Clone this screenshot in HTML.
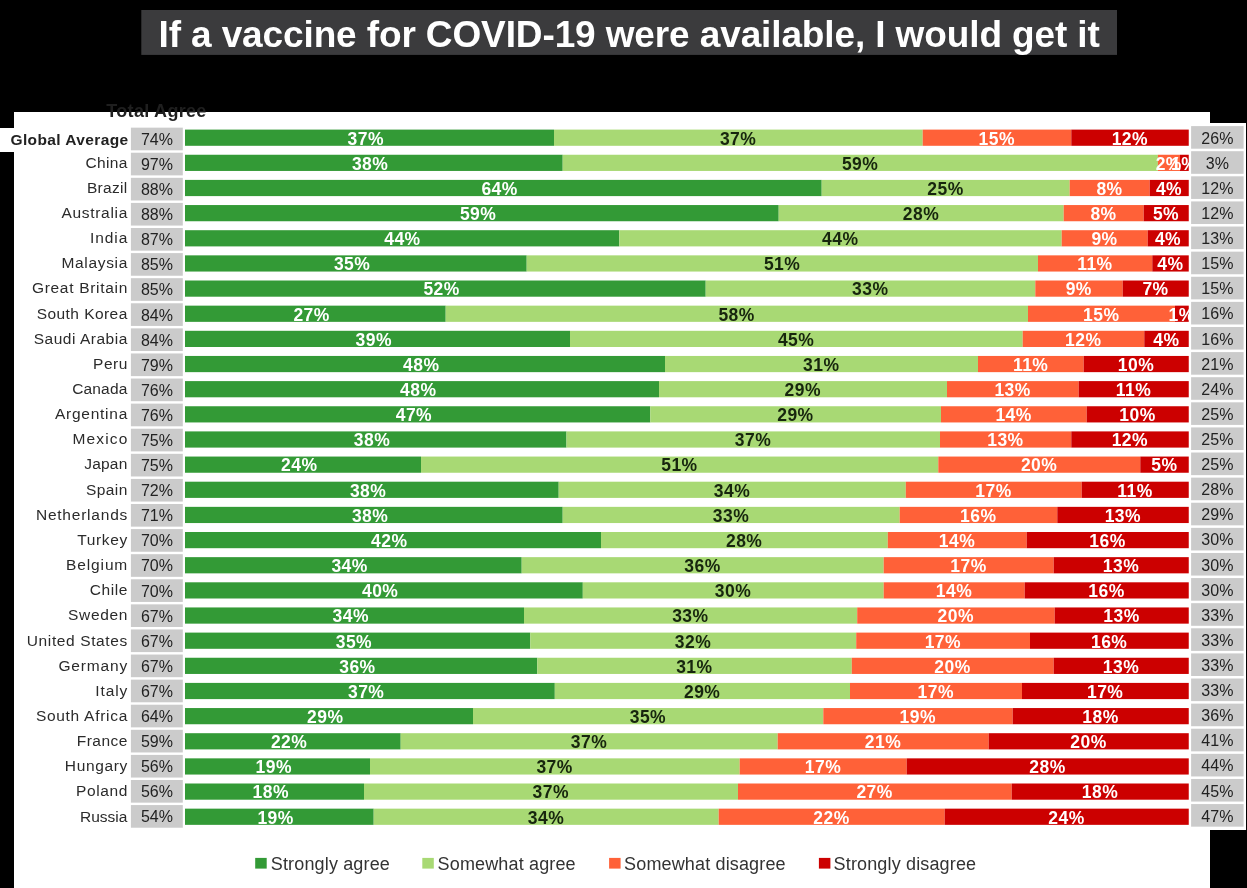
<!DOCTYPE html>
<html lang="en"><head><meta charset="utf-8"><title>If a vaccine for COVID-19 were available, I would get it</title>
<style>
html,body{margin:0;padding:0;background:#000;}
body{width:1247px;height:888px;position:relative;overflow:hidden;font-family:"Liberation Sans",sans-serif;color:#262626;}
.a{position:absolute;}
.t{position:absolute;white-space:nowrap;text-align:center;}
.panel{left:14px;top:112px;width:1196px;height:776px;background:#fff;}
.rpanel{left:1189px;top:122.7px;width:57px;height:707.4px;background:#fff;}
.gl{left:0;top:127.7px;width:131px;height:24.2px;background:#fff;}
.title{left:141.7px;top:10px;width:974.3px;height:44.6px;background:#3b3b3d;}
.tt{color:#fff;font-weight:bold;}
.c{background:#cbcbcb;z-index:3;}
.ct{z-index:4;color:#222;}
.cn{text-align:right;color:#2b2b2b;}
.s{height:16.2px;}
.bl{font-weight:bold;z-index:2;}
.lg{color:#333;text-align:left;}
</style></head><body>
<div class="a panel"></div>
<div class="a rpanel"></div>
<div class="a gl"></div>

<svg class="a" style="left:0;top:0;z-index:1" width="1247" height="888" viewBox="0 0 1247 888"><rect x="141.30" y="10.00" width="975.70" height="44.90" fill="#3b3b3d"/>
<rect x="185.00" y="129.60" width="369.00" height="16.20" fill="#339a36"/>
<rect x="554.00" y="129.60" width="368.70" height="16.20" fill="#a8d974"/>
<rect x="922.70" y="129.60" width="148.60" height="16.20" fill="#ff6138"/>
<rect x="1071.30" y="129.60" width="117.45" height="16.20" fill="#cc0000"/>
<rect x="185.00" y="154.75" width="377.70" height="16.20" fill="#339a36"/>
<rect x="562.70" y="154.75" width="595.20" height="16.20" fill="#a8d974"/>
<rect x="1157.90" y="154.75" width="22.10" height="16.20" fill="#ff6138"/>
<rect x="1180.00" y="154.75" width="8.75" height="16.20" fill="#cc0000"/>
<rect x="185.00" y="179.90" width="636.70" height="16.20" fill="#339a36"/>
<rect x="821.70" y="179.90" width="248.00" height="16.20" fill="#a8d974"/>
<rect x="1069.70" y="179.90" width="80.00" height="16.20" fill="#ff6138"/>
<rect x="1149.70" y="179.90" width="39.05" height="16.20" fill="#cc0000"/>
<rect x="185.00" y="205.05" width="593.70" height="16.20" fill="#339a36"/>
<rect x="778.70" y="205.05" width="285.00" height="16.20" fill="#a8d974"/>
<rect x="1063.70" y="205.05" width="80.00" height="16.20" fill="#ff6138"/>
<rect x="1143.70" y="205.05" width="45.05" height="16.20" fill="#cc0000"/>
<rect x="185.00" y="230.20" width="434.30" height="16.20" fill="#339a36"/>
<rect x="619.30" y="230.20" width="442.40" height="16.20" fill="#a8d974"/>
<rect x="1061.70" y="230.20" width="86.00" height="16.20" fill="#ff6138"/>
<rect x="1147.70" y="230.20" width="41.05" height="16.20" fill="#cc0000"/>
<rect x="185.00" y="255.35" width="341.70" height="16.20" fill="#339a36"/>
<rect x="526.70" y="255.35" width="511.30" height="16.20" fill="#a8d974"/>
<rect x="1038.00" y="255.35" width="114.30" height="16.20" fill="#ff6138"/>
<rect x="1152.30" y="255.35" width="36.45" height="16.20" fill="#cc0000"/>
<rect x="185.00" y="280.50" width="520.70" height="16.20" fill="#339a36"/>
<rect x="705.70" y="280.50" width="329.60" height="16.20" fill="#a8d974"/>
<rect x="1035.30" y="280.50" width="87.40" height="16.20" fill="#ff6138"/>
<rect x="1122.70" y="280.50" width="66.05" height="16.20" fill="#cc0000"/>
<rect x="185.00" y="305.65" width="260.70" height="16.20" fill="#339a36"/>
<rect x="445.70" y="305.65" width="582.30" height="16.20" fill="#a8d974"/>
<rect x="1028.00" y="305.65" width="147.00" height="16.20" fill="#ff6138"/>
<rect x="1175.00" y="305.65" width="13.75" height="16.20" fill="#cc0000"/>
<rect x="185.00" y="330.80" width="385.00" height="16.20" fill="#339a36"/>
<rect x="570.00" y="330.80" width="452.70" height="16.20" fill="#a8d974"/>
<rect x="1022.70" y="330.80" width="121.60" height="16.20" fill="#ff6138"/>
<rect x="1144.30" y="330.80" width="44.45" height="16.20" fill="#cc0000"/>
<rect x="185.00" y="355.95" width="480.00" height="16.20" fill="#339a36"/>
<rect x="665.00" y="355.95" width="313.00" height="16.20" fill="#a8d974"/>
<rect x="978.00" y="355.95" width="105.70" height="16.20" fill="#ff6138"/>
<rect x="1083.70" y="355.95" width="105.05" height="16.20" fill="#cc0000"/>
<rect x="185.00" y="381.10" width="474.00" height="16.20" fill="#339a36"/>
<rect x="659.00" y="381.10" width="288.00" height="16.20" fill="#a8d974"/>
<rect x="947.00" y="381.10" width="131.70" height="16.20" fill="#ff6138"/>
<rect x="1078.70" y="381.10" width="110.05" height="16.20" fill="#cc0000"/>
<rect x="185.00" y="406.25" width="465.30" height="16.20" fill="#339a36"/>
<rect x="650.30" y="406.25" width="290.70" height="16.20" fill="#a8d974"/>
<rect x="941.00" y="406.25" width="145.70" height="16.20" fill="#ff6138"/>
<rect x="1086.70" y="406.25" width="102.05" height="16.20" fill="#cc0000"/>
<rect x="185.00" y="431.40" width="381.50" height="16.20" fill="#339a36"/>
<rect x="566.50" y="431.40" width="373.50" height="16.20" fill="#a8d974"/>
<rect x="940.00" y="431.40" width="131.30" height="16.20" fill="#ff6138"/>
<rect x="1071.30" y="431.40" width="117.45" height="16.20" fill="#cc0000"/>
<rect x="185.00" y="456.55" width="236.00" height="16.20" fill="#339a36"/>
<rect x="421.00" y="456.55" width="517.30" height="16.20" fill="#a8d974"/>
<rect x="938.30" y="456.55" width="202.00" height="16.20" fill="#ff6138"/>
<rect x="1140.30" y="456.55" width="48.45" height="16.20" fill="#cc0000"/>
<rect x="185.00" y="481.70" width="373.70" height="16.20" fill="#339a36"/>
<rect x="558.70" y="481.70" width="347.10" height="16.20" fill="#a8d974"/>
<rect x="905.80" y="481.70" width="175.90" height="16.20" fill="#ff6138"/>
<rect x="1081.70" y="481.70" width="107.05" height="16.20" fill="#cc0000"/>
<rect x="185.00" y="506.85" width="377.70" height="16.20" fill="#339a36"/>
<rect x="562.70" y="506.85" width="337.00" height="16.20" fill="#a8d974"/>
<rect x="899.70" y="506.85" width="157.60" height="16.20" fill="#ff6138"/>
<rect x="1057.30" y="506.85" width="131.45" height="16.20" fill="#cc0000"/>
<rect x="185.00" y="532.00" width="416.00" height="16.20" fill="#339a36"/>
<rect x="601.00" y="532.00" width="286.80" height="16.20" fill="#a8d974"/>
<rect x="887.80" y="532.00" width="138.90" height="16.20" fill="#ff6138"/>
<rect x="1026.70" y="532.00" width="162.05" height="16.20" fill="#cc0000"/>
<rect x="185.00" y="557.15" width="336.70" height="16.20" fill="#339a36"/>
<rect x="521.70" y="557.15" width="362.00" height="16.20" fill="#a8d974"/>
<rect x="883.70" y="557.15" width="170.00" height="16.20" fill="#ff6138"/>
<rect x="1053.70" y="557.15" width="135.05" height="16.20" fill="#cc0000"/>
<rect x="185.00" y="582.30" width="397.80" height="16.20" fill="#339a36"/>
<rect x="582.80" y="582.30" width="300.90" height="16.20" fill="#a8d974"/>
<rect x="883.70" y="582.30" width="141.00" height="16.20" fill="#ff6138"/>
<rect x="1024.70" y="582.30" width="164.05" height="16.20" fill="#cc0000"/>
<rect x="185.00" y="607.45" width="339.00" height="16.20" fill="#339a36"/>
<rect x="524.00" y="607.45" width="333.20" height="16.20" fill="#a8d974"/>
<rect x="857.20" y="607.45" width="197.50" height="16.20" fill="#ff6138"/>
<rect x="1054.70" y="607.45" width="134.05" height="16.20" fill="#cc0000"/>
<rect x="185.00" y="632.60" width="345.30" height="16.20" fill="#339a36"/>
<rect x="530.30" y="632.60" width="325.90" height="16.20" fill="#a8d974"/>
<rect x="856.20" y="632.60" width="173.80" height="16.20" fill="#ff6138"/>
<rect x="1030.00" y="632.60" width="158.75" height="16.20" fill="#cc0000"/>
<rect x="185.00" y="657.75" width="352.30" height="16.20" fill="#339a36"/>
<rect x="537.30" y="657.75" width="314.50" height="16.20" fill="#a8d974"/>
<rect x="851.80" y="657.75" width="201.90" height="16.20" fill="#ff6138"/>
<rect x="1053.70" y="657.75" width="135.05" height="16.20" fill="#cc0000"/>
<rect x="185.00" y="682.90" width="369.80" height="16.20" fill="#339a36"/>
<rect x="554.80" y="682.90" width="295.20" height="16.20" fill="#a8d974"/>
<rect x="850.00" y="682.90" width="172.00" height="16.20" fill="#ff6138"/>
<rect x="1022.00" y="682.90" width="166.75" height="16.20" fill="#cc0000"/>
<rect x="185.00" y="708.05" width="288.00" height="16.20" fill="#339a36"/>
<rect x="473.00" y="708.05" width="350.30" height="16.20" fill="#a8d974"/>
<rect x="823.30" y="708.05" width="189.40" height="16.20" fill="#ff6138"/>
<rect x="1012.70" y="708.05" width="176.05" height="16.20" fill="#cc0000"/>
<rect x="185.00" y="733.20" width="215.70" height="16.20" fill="#339a36"/>
<rect x="400.70" y="733.20" width="377.00" height="16.20" fill="#a8d974"/>
<rect x="777.70" y="733.20" width="211.00" height="16.20" fill="#ff6138"/>
<rect x="988.70" y="733.20" width="200.05" height="16.20" fill="#cc0000"/>
<rect x="185.00" y="758.35" width="185.00" height="16.20" fill="#339a36"/>
<rect x="370.00" y="758.35" width="369.70" height="16.20" fill="#a8d974"/>
<rect x="739.70" y="758.35" width="167.00" height="16.20" fill="#ff6138"/>
<rect x="906.70" y="758.35" width="282.05" height="16.20" fill="#cc0000"/>
<rect x="185.00" y="783.50" width="179.00" height="16.20" fill="#339a36"/>
<rect x="364.00" y="783.50" width="374.00" height="16.20" fill="#a8d974"/>
<rect x="738.00" y="783.50" width="273.70" height="16.20" fill="#ff6138"/>
<rect x="1011.70" y="783.50" width="177.05" height="16.20" fill="#cc0000"/>
<rect x="185.00" y="808.65" width="188.70" height="16.20" fill="#339a36"/>
<rect x="373.70" y="808.65" width="345.00" height="16.20" fill="#a8d974"/>
<rect x="718.70" y="808.65" width="226.00" height="16.20" fill="#ff6138"/>
<rect x="944.70" y="808.65" width="244.05" height="16.20" fill="#cc0000"/>
<rect x="255.20" y="857.90" width="11.50" height="10.70" fill="#339a36"/>
<rect x="422.30" y="857.90" width="11.50" height="10.70" fill="#a8d974"/>
<rect x="609.10" y="857.90" width="11.50" height="10.70" fill="#ff6138"/>
<rect x="818.90" y="857.90" width="11.50" height="10.70" fill="#cc0000"/></svg><svg class="a" style="left:0;top:0;z-index:3" width="1247" height="888" viewBox="0 0 1247 888"><rect x="130.90" y="127.65" width="51.90" height="22.65" fill="#cbcbcb"/>
<rect x="1191.10" y="126.10" width="52.50" height="22.60" fill="#cbcbcb"/>
<rect x="130.90" y="152.74" width="51.90" height="22.65" fill="#cbcbcb"/>
<rect x="1191.10" y="151.21" width="52.50" height="22.60" fill="#cbcbcb"/>
<rect x="130.90" y="177.83" width="51.90" height="22.65" fill="#cbcbcb"/>
<rect x="1191.10" y="176.32" width="52.50" height="22.60" fill="#cbcbcb"/>
<rect x="130.90" y="202.92" width="51.90" height="22.65" fill="#cbcbcb"/>
<rect x="1191.10" y="201.43" width="52.50" height="22.60" fill="#cbcbcb"/>
<rect x="130.90" y="228.01" width="51.90" height="22.65" fill="#cbcbcb"/>
<rect x="1191.10" y="226.54" width="52.50" height="22.60" fill="#cbcbcb"/>
<rect x="130.90" y="253.10" width="51.90" height="22.65" fill="#cbcbcb"/>
<rect x="1191.10" y="251.65" width="52.50" height="22.60" fill="#cbcbcb"/>
<rect x="130.90" y="278.19" width="51.90" height="22.65" fill="#cbcbcb"/>
<rect x="1191.10" y="276.76" width="52.50" height="22.60" fill="#cbcbcb"/>
<rect x="130.90" y="303.28" width="51.90" height="22.65" fill="#cbcbcb"/>
<rect x="1191.10" y="301.87" width="52.50" height="22.60" fill="#cbcbcb"/>
<rect x="130.90" y="328.37" width="51.90" height="22.65" fill="#cbcbcb"/>
<rect x="1191.10" y="326.98" width="52.50" height="22.60" fill="#cbcbcb"/>
<rect x="130.90" y="353.46" width="51.90" height="22.65" fill="#cbcbcb"/>
<rect x="1191.10" y="352.09" width="52.50" height="22.60" fill="#cbcbcb"/>
<rect x="130.90" y="378.55" width="51.90" height="22.65" fill="#cbcbcb"/>
<rect x="1191.10" y="377.20" width="52.50" height="22.60" fill="#cbcbcb"/>
<rect x="130.90" y="403.64" width="51.90" height="22.65" fill="#cbcbcb"/>
<rect x="1191.10" y="402.31" width="52.50" height="22.60" fill="#cbcbcb"/>
<rect x="130.90" y="428.73" width="51.90" height="22.65" fill="#cbcbcb"/>
<rect x="1191.10" y="427.42" width="52.50" height="22.60" fill="#cbcbcb"/>
<rect x="130.90" y="453.82" width="51.90" height="22.65" fill="#cbcbcb"/>
<rect x="1191.10" y="452.53" width="52.50" height="22.60" fill="#cbcbcb"/>
<rect x="130.90" y="478.91" width="51.90" height="22.65" fill="#cbcbcb"/>
<rect x="1191.10" y="477.64" width="52.50" height="22.60" fill="#cbcbcb"/>
<rect x="130.90" y="504.00" width="51.90" height="22.65" fill="#cbcbcb"/>
<rect x="1191.10" y="502.75" width="52.50" height="22.60" fill="#cbcbcb"/>
<rect x="130.90" y="529.09" width="51.90" height="22.65" fill="#cbcbcb"/>
<rect x="1191.10" y="527.86" width="52.50" height="22.60" fill="#cbcbcb"/>
<rect x="130.90" y="554.18" width="51.90" height="22.65" fill="#cbcbcb"/>
<rect x="1191.10" y="552.97" width="52.50" height="22.60" fill="#cbcbcb"/>
<rect x="130.90" y="579.27" width="51.90" height="22.65" fill="#cbcbcb"/>
<rect x="1191.10" y="578.08" width="52.50" height="22.60" fill="#cbcbcb"/>
<rect x="130.90" y="604.36" width="51.90" height="22.65" fill="#cbcbcb"/>
<rect x="1191.10" y="603.19" width="52.50" height="22.60" fill="#cbcbcb"/>
<rect x="130.90" y="629.45" width="51.90" height="22.65" fill="#cbcbcb"/>
<rect x="1191.10" y="628.30" width="52.50" height="22.60" fill="#cbcbcb"/>
<rect x="130.90" y="654.54" width="51.90" height="22.65" fill="#cbcbcb"/>
<rect x="1191.10" y="653.41" width="52.50" height="22.60" fill="#cbcbcb"/>
<rect x="130.90" y="679.63" width="51.90" height="22.65" fill="#cbcbcb"/>
<rect x="1191.10" y="678.52" width="52.50" height="22.60" fill="#cbcbcb"/>
<rect x="130.90" y="704.72" width="51.90" height="22.65" fill="#cbcbcb"/>
<rect x="1191.10" y="703.63" width="52.50" height="22.60" fill="#cbcbcb"/>
<rect x="130.90" y="729.81" width="51.90" height="22.65" fill="#cbcbcb"/>
<rect x="1191.10" y="728.74" width="52.50" height="22.60" fill="#cbcbcb"/>
<rect x="130.90" y="754.90" width="51.90" height="22.65" fill="#cbcbcb"/>
<rect x="1191.10" y="753.85" width="52.50" height="22.60" fill="#cbcbcb"/>
<rect x="130.90" y="779.99" width="51.90" height="22.65" fill="#cbcbcb"/>
<rect x="1191.10" y="778.96" width="52.50" height="22.60" fill="#cbcbcb"/>
<rect x="130.90" y="805.08" width="51.90" height="22.65" fill="#cbcbcb"/>
<rect x="1191.10" y="804.07" width="52.50" height="22.60" fill="#cbcbcb"/></svg>
<div class="t tt" style="left:158.50px;width:960.00px;top:12.80px;height:44px;line-height:44px;font-size:37px;letter-spacing:-0.12px;text-align:left;z-index:2;">If a vaccine for COVID-19 were available, I would get it</div>
<div class="t " style="left:106.00px;width:101.00px;top:100.30px;height:22px;line-height:22px;font-size:18px;font-weight:bold;color:#1f1f1f;letter-spacing:0.3px;">Total Agree</div>
<div class="t ct" style="left:131.00px;width:51.80px;top:129.80px;height:20px;line-height:20px;font-size:16px;">74%</div>
<div class="t ct" style="left:1191.10px;width:52.50px;top:128.80px;height:20px;line-height:20px;font-size:16px;">26%</div>
<div class="t cn" style="left:0.00px;width:128.60px;top:129.80px;height:20px;line-height:20px;font-size:15.5px;font-weight:bold;color:#222;letter-spacing:0.4px;">Global Average</div>
<div class="t bl" style="left:335.80px;width:60.00px;top:129.30px;height:20px;line-height:20px;font-size:17.5px;color:#fff;letter-spacing:0.45px;">37%</div>
<div class="t bl" style="left:708.15px;width:60.00px;top:129.30px;height:20px;line-height:20px;font-size:17.5px;color:#17260e;letter-spacing:0.45px;">37%</div>
<div class="t bl" style="left:966.80px;width:60.00px;top:129.30px;height:20px;line-height:20px;font-size:17.5px;color:#fff;letter-spacing:0.45px;">15%</div>
<div class="t bl" style="left:1099.83px;width:60.00px;top:129.30px;height:20px;line-height:20px;font-size:17.5px;color:#fff;letter-spacing:0.45px;">12%</div>
<div class="t ct" style="left:131.00px;width:51.80px;top:154.80px;height:20px;line-height:20px;font-size:16px;">97%</div>
<div class="t ct" style="left:1191.10px;width:52.50px;top:153.80px;height:20px;line-height:20px;font-size:16px;">3%</div>
<div class="t cn" style="left:0.00px;width:127.60px;top:152.80px;height:20px;line-height:20px;font-size:15.5px;letter-spacing:0.3px;">China</div>
<div class="t bl" style="left:340.15px;width:60.00px;top:154.30px;height:20px;line-height:20px;font-size:17.5px;color:#fff;letter-spacing:0.45px;">38%</div>
<div class="t bl" style="left:830.10px;width:60.00px;top:154.30px;height:20px;line-height:20px;font-size:17.5px;color:#17260e;letter-spacing:0.45px;">59%</div>
<div class="t bl" style="left:1138.75px;width:60.00px;top:154.30px;height:20px;line-height:20px;font-size:17.5px;color:#fff;letter-spacing:0.45px;">2%</div>
<div class="t bl" style="left:1154.17px;width:60.00px;top:154.30px;height:20px;line-height:20px;font-size:17.5px;color:#fff;letter-spacing:0.45px;">1%</div>
<div class="t ct" style="left:131.00px;width:51.80px;top:179.80px;height:20px;line-height:20px;font-size:16px;">88%</div>
<div class="t ct" style="left:1191.10px;width:52.50px;top:178.80px;height:20px;line-height:20px;font-size:16px;">12%</div>
<div class="t cn" style="left:0.00px;width:127.62px;top:177.80px;height:20px;line-height:20px;font-size:15.5px;letter-spacing:0.32px;">Brazil</div>
<div class="t bl" style="left:469.65px;width:60.00px;top:179.30px;height:20px;line-height:20px;font-size:17.5px;color:#fff;letter-spacing:0.45px;">64%</div>
<div class="t bl" style="left:915.50px;width:60.00px;top:179.30px;height:20px;line-height:20px;font-size:17.5px;color:#17260e;letter-spacing:0.45px;">25%</div>
<div class="t bl" style="left:1079.50px;width:60.00px;top:179.30px;height:20px;line-height:20px;font-size:17.5px;color:#fff;letter-spacing:0.45px;">8%</div>
<div class="t bl" style="left:1139.02px;width:60.00px;top:179.30px;height:20px;line-height:20px;font-size:17.5px;color:#fff;letter-spacing:0.45px;">4%</div>
<div class="t ct" style="left:131.00px;width:51.80px;top:204.80px;height:20px;line-height:20px;font-size:16px;">88%</div>
<div class="t ct" style="left:1191.10px;width:52.50px;top:203.80px;height:20px;line-height:20px;font-size:16px;">12%</div>
<div class="t cn" style="left:0.00px;width:127.98px;top:202.80px;height:20px;line-height:20px;font-size:15.5px;letter-spacing:0.68px;">Australia</div>
<div class="t bl" style="left:448.15px;width:60.00px;top:204.30px;height:20px;line-height:20px;font-size:17.5px;color:#fff;letter-spacing:0.45px;">59%</div>
<div class="t bl" style="left:891.00px;width:60.00px;top:204.30px;height:20px;line-height:20px;font-size:17.5px;color:#17260e;letter-spacing:0.45px;">28%</div>
<div class="t bl" style="left:1073.50px;width:60.00px;top:204.30px;height:20px;line-height:20px;font-size:17.5px;color:#fff;letter-spacing:0.45px;">8%</div>
<div class="t bl" style="left:1136.02px;width:60.00px;top:204.30px;height:20px;line-height:20px;font-size:17.5px;color:#fff;letter-spacing:0.45px;">5%</div>
<div class="t ct" style="left:131.00px;width:51.80px;top:229.80px;height:20px;line-height:20px;font-size:16px;">87%</div>
<div class="t ct" style="left:1191.10px;width:52.50px;top:228.80px;height:20px;line-height:20px;font-size:16px;">13%</div>
<div class="t cn" style="left:0.00px;width:128.23px;top:227.80px;height:20px;line-height:20px;font-size:15.5px;letter-spacing:0.93px;">India</div>
<div class="t bl" style="left:372.45px;width:60.00px;top:229.30px;height:20px;line-height:20px;font-size:17.5px;color:#fff;letter-spacing:0.45px;">44%</div>
<div class="t bl" style="left:810.30px;width:60.00px;top:229.30px;height:20px;line-height:20px;font-size:17.5px;color:#17260e;letter-spacing:0.45px;">44%</div>
<div class="t bl" style="left:1074.50px;width:60.00px;top:229.30px;height:20px;line-height:20px;font-size:17.5px;color:#fff;letter-spacing:0.45px;">9%</div>
<div class="t bl" style="left:1138.02px;width:60.00px;top:229.30px;height:20px;line-height:20px;font-size:17.5px;color:#fff;letter-spacing:0.45px;">4%</div>
<div class="t ct" style="left:131.00px;width:51.80px;top:254.80px;height:20px;line-height:20px;font-size:16px;">85%</div>
<div class="t ct" style="left:1191.10px;width:52.50px;top:253.80px;height:20px;line-height:20px;font-size:16px;">15%</div>
<div class="t cn" style="left:0.00px;width:127.96px;top:252.80px;height:20px;line-height:20px;font-size:15.5px;letter-spacing:0.66px;">Malaysia</div>
<div class="t bl" style="left:322.15px;width:60.00px;top:254.30px;height:20px;line-height:20px;font-size:17.5px;color:#fff;letter-spacing:0.45px;">35%</div>
<div class="t bl" style="left:752.15px;width:60.00px;top:254.30px;height:20px;line-height:20px;font-size:17.5px;color:#17260e;letter-spacing:0.45px;">51%</div>
<div class="t bl" style="left:1064.95px;width:60.00px;top:254.30px;height:20px;line-height:20px;font-size:17.5px;color:#fff;letter-spacing:0.45px;">11%</div>
<div class="t bl" style="left:1140.33px;width:60.00px;top:254.30px;height:20px;line-height:20px;font-size:17.5px;color:#fff;letter-spacing:0.45px;">4%</div>
<div class="t ct" style="left:131.00px;width:51.80px;top:279.80px;height:20px;line-height:20px;font-size:16px;">85%</div>
<div class="t ct" style="left:1191.10px;width:52.50px;top:278.80px;height:20px;line-height:20px;font-size:16px;">15%</div>
<div class="t cn" style="left:0.00px;width:128.00px;top:277.80px;height:20px;line-height:20px;font-size:15.5px;letter-spacing:0.7px;">Great Britain</div>
<div class="t bl" style="left:411.65px;width:60.00px;top:279.30px;height:20px;line-height:20px;font-size:17.5px;color:#fff;letter-spacing:0.45px;">52%</div>
<div class="t bl" style="left:840.30px;width:60.00px;top:279.30px;height:20px;line-height:20px;font-size:17.5px;color:#17260e;letter-spacing:0.45px;">33%</div>
<div class="t bl" style="left:1048.80px;width:60.00px;top:279.30px;height:20px;line-height:20px;font-size:17.5px;color:#fff;letter-spacing:0.45px;">9%</div>
<div class="t bl" style="left:1125.52px;width:60.00px;top:279.30px;height:20px;line-height:20px;font-size:17.5px;color:#fff;letter-spacing:0.45px;">7%</div>
<div class="t ct" style="left:131.00px;width:51.80px;top:305.80px;height:20px;line-height:20px;font-size:16px;">84%</div>
<div class="t ct" style="left:1191.10px;width:52.50px;top:303.80px;height:20px;line-height:20px;font-size:16px;">16%</div>
<div class="t cn" style="left:0.00px;width:127.75px;top:303.80px;height:20px;line-height:20px;font-size:15.5px;letter-spacing:0.45px;">South Korea</div>
<div class="t bl" style="left:281.65px;width:60.00px;top:305.30px;height:20px;line-height:20px;font-size:17.5px;color:#fff;letter-spacing:0.45px;">27%</div>
<div class="t bl" style="left:706.65px;width:60.00px;top:305.30px;height:20px;line-height:20px;font-size:17.5px;color:#17260e;letter-spacing:0.45px;">58%</div>
<div class="t bl" style="left:1071.30px;width:60.00px;top:305.30px;height:20px;line-height:20px;font-size:17.5px;color:#fff;letter-spacing:0.45px;">15%</div>
<div class="t bl" style="left:1151.67px;width:60.00px;top:305.30px;height:20px;line-height:20px;font-size:17.5px;color:#fff;letter-spacing:0.45px;">1%</div>
<div class="t ct" style="left:131.00px;width:51.80px;top:330.80px;height:20px;line-height:20px;font-size:16px;">84%</div>
<div class="t ct" style="left:1191.10px;width:52.50px;top:329.80px;height:20px;line-height:20px;font-size:16px;">16%</div>
<div class="t cn" style="left:0.00px;width:127.82px;top:328.80px;height:20px;line-height:20px;font-size:15.5px;letter-spacing:0.52px;">Saudi Arabia</div>
<div class="t bl" style="left:343.80px;width:60.00px;top:330.30px;height:20px;line-height:20px;font-size:17.5px;color:#fff;letter-spacing:0.45px;">39%</div>
<div class="t bl" style="left:766.15px;width:60.00px;top:330.30px;height:20px;line-height:20px;font-size:17.5px;color:#17260e;letter-spacing:0.45px;">45%</div>
<div class="t bl" style="left:1053.30px;width:60.00px;top:330.30px;height:20px;line-height:20px;font-size:17.5px;color:#fff;letter-spacing:0.45px;">12%</div>
<div class="t bl" style="left:1136.33px;width:60.00px;top:330.30px;height:20px;line-height:20px;font-size:17.5px;color:#fff;letter-spacing:0.45px;">4%</div>
<div class="t ct" style="left:131.00px;width:51.80px;top:355.80px;height:20px;line-height:20px;font-size:16px;">79%</div>
<div class="t ct" style="left:1191.10px;width:52.50px;top:354.80px;height:20px;line-height:20px;font-size:16px;">21%</div>
<div class="t cn" style="left:0.00px;width:127.80px;top:353.80px;height:20px;line-height:20px;font-size:15.5px;letter-spacing:0.5px;">Peru</div>
<div class="t bl" style="left:391.30px;width:60.00px;top:355.30px;height:20px;line-height:20px;font-size:17.5px;color:#fff;letter-spacing:0.45px;">48%</div>
<div class="t bl" style="left:791.30px;width:60.00px;top:355.30px;height:20px;line-height:20px;font-size:17.5px;color:#17260e;letter-spacing:0.45px;">31%</div>
<div class="t bl" style="left:1000.65px;width:60.00px;top:355.30px;height:20px;line-height:20px;font-size:17.5px;color:#fff;letter-spacing:0.45px;">11%</div>
<div class="t bl" style="left:1106.02px;width:60.00px;top:355.30px;height:20px;line-height:20px;font-size:17.5px;color:#fff;letter-spacing:0.45px;">10%</div>
<div class="t ct" style="left:131.00px;width:51.80px;top:380.80px;height:20px;line-height:20px;font-size:16px;">76%</div>
<div class="t ct" style="left:1191.10px;width:52.50px;top:379.80px;height:20px;line-height:20px;font-size:16px;">24%</div>
<div class="t cn" style="left:0.00px;width:127.46px;top:378.80px;height:20px;line-height:20px;font-size:15.5px;letter-spacing:0.16px;">Canada</div>
<div class="t bl" style="left:388.30px;width:60.00px;top:380.30px;height:20px;line-height:20px;font-size:17.5px;color:#fff;letter-spacing:0.45px;">48%</div>
<div class="t bl" style="left:772.80px;width:60.00px;top:380.30px;height:20px;line-height:20px;font-size:17.5px;color:#17260e;letter-spacing:0.45px;">29%</div>
<div class="t bl" style="left:982.65px;width:60.00px;top:380.30px;height:20px;line-height:20px;font-size:17.5px;color:#fff;letter-spacing:0.45px;">13%</div>
<div class="t bl" style="left:1103.52px;width:60.00px;top:380.30px;height:20px;line-height:20px;font-size:17.5px;color:#fff;letter-spacing:0.45px;">11%</div>
<div class="t ct" style="left:131.00px;width:51.80px;top:405.80px;height:20px;line-height:20px;font-size:16px;">76%</div>
<div class="t ct" style="left:1191.10px;width:52.50px;top:404.80px;height:20px;line-height:20px;font-size:16px;">25%</div>
<div class="t cn" style="left:0.00px;width:128.04px;top:403.80px;height:20px;line-height:20px;font-size:15.5px;letter-spacing:0.74px;">Argentina</div>
<div class="t bl" style="left:383.95px;width:60.00px;top:405.30px;height:20px;line-height:20px;font-size:17.5px;color:#fff;letter-spacing:0.45px;">47%</div>
<div class="t bl" style="left:765.45px;width:60.00px;top:405.30px;height:20px;line-height:20px;font-size:17.5px;color:#17260e;letter-spacing:0.45px;">29%</div>
<div class="t bl" style="left:983.65px;width:60.00px;top:405.30px;height:20px;line-height:20px;font-size:17.5px;color:#fff;letter-spacing:0.45px;">14%</div>
<div class="t bl" style="left:1107.52px;width:60.00px;top:405.30px;height:20px;line-height:20px;font-size:17.5px;color:#fff;letter-spacing:0.45px;">10%</div>
<div class="t ct" style="left:131.00px;width:51.80px;top:430.80px;height:20px;line-height:20px;font-size:16px;">75%</div>
<div class="t ct" style="left:1191.10px;width:52.50px;top:429.80px;height:20px;line-height:20px;font-size:16px;">25%</div>
<div class="t cn" style="left:0.00px;width:128.44px;top:428.80px;height:20px;line-height:20px;font-size:15.5px;letter-spacing:1.14px;">Mexico</div>
<div class="t bl" style="left:342.05px;width:60.00px;top:430.30px;height:20px;line-height:20px;font-size:17.5px;color:#fff;letter-spacing:0.45px;">38%</div>
<div class="t bl" style="left:723.05px;width:60.00px;top:430.30px;height:20px;line-height:20px;font-size:17.5px;color:#17260e;letter-spacing:0.45px;">37%</div>
<div class="t bl" style="left:975.45px;width:60.00px;top:430.30px;height:20px;line-height:20px;font-size:17.5px;color:#fff;letter-spacing:0.45px;">13%</div>
<div class="t bl" style="left:1099.83px;width:60.00px;top:430.30px;height:20px;line-height:20px;font-size:17.5px;color:#fff;letter-spacing:0.45px;">12%</div>
<div class="t ct" style="left:131.00px;width:51.80px;top:455.80px;height:20px;line-height:20px;font-size:16px;">75%</div>
<div class="t ct" style="left:1191.10px;width:52.50px;top:454.80px;height:20px;line-height:20px;font-size:16px;">25%</div>
<div class="t cn" style="left:0.00px;width:127.50px;top:453.80px;height:20px;line-height:20px;font-size:15.5px;letter-spacing:0.2px;">Japan</div>
<div class="t bl" style="left:269.30px;width:60.00px;top:455.30px;height:20px;line-height:20px;font-size:17.5px;color:#fff;letter-spacing:0.45px;">24%</div>
<div class="t bl" style="left:649.45px;width:60.00px;top:455.30px;height:20px;line-height:20px;font-size:17.5px;color:#17260e;letter-spacing:0.45px;">51%</div>
<div class="t bl" style="left:1009.10px;width:60.00px;top:455.30px;height:20px;line-height:20px;font-size:17.5px;color:#fff;letter-spacing:0.45px;">20%</div>
<div class="t bl" style="left:1134.33px;width:60.00px;top:455.30px;height:20px;line-height:20px;font-size:17.5px;color:#fff;letter-spacing:0.45px;">5%</div>
<div class="t ct" style="left:131.00px;width:51.80px;top:480.80px;height:20px;line-height:20px;font-size:16px;">72%</div>
<div class="t ct" style="left:1191.10px;width:52.50px;top:479.80px;height:20px;line-height:20px;font-size:16px;">28%</div>
<div class="t cn" style="left:0.00px;width:127.70px;top:479.80px;height:20px;line-height:20px;font-size:15.5px;letter-spacing:0.4px;">Spain</div>
<div class="t bl" style="left:338.15px;width:60.00px;top:481.30px;height:20px;line-height:20px;font-size:17.5px;color:#fff;letter-spacing:0.45px;">38%</div>
<div class="t bl" style="left:702.05px;width:60.00px;top:481.30px;height:20px;line-height:20px;font-size:17.5px;color:#17260e;letter-spacing:0.45px;">34%</div>
<div class="t bl" style="left:963.55px;width:60.00px;top:481.30px;height:20px;line-height:20px;font-size:17.5px;color:#fff;letter-spacing:0.45px;">17%</div>
<div class="t bl" style="left:1105.02px;width:60.00px;top:481.30px;height:20px;line-height:20px;font-size:17.5px;color:#fff;letter-spacing:0.45px;">11%</div>
<div class="t ct" style="left:131.00px;width:51.80px;top:505.80px;height:20px;line-height:20px;font-size:16px;">71%</div>
<div class="t ct" style="left:1191.10px;width:52.50px;top:504.80px;height:20px;line-height:20px;font-size:16px;">29%</div>
<div class="t cn" style="left:0.00px;width:128.08px;top:504.80px;height:20px;line-height:20px;font-size:15.5px;letter-spacing:0.78px;">Netherlands</div>
<div class="t bl" style="left:340.15px;width:60.00px;top:506.30px;height:20px;line-height:20px;font-size:17.5px;color:#fff;letter-spacing:0.45px;">38%</div>
<div class="t bl" style="left:701.00px;width:60.00px;top:506.30px;height:20px;line-height:20px;font-size:17.5px;color:#17260e;letter-spacing:0.45px;">33%</div>
<div class="t bl" style="left:948.30px;width:60.00px;top:506.30px;height:20px;line-height:20px;font-size:17.5px;color:#fff;letter-spacing:0.45px;">16%</div>
<div class="t bl" style="left:1092.83px;width:60.00px;top:506.30px;height:20px;line-height:20px;font-size:17.5px;color:#fff;letter-spacing:0.45px;">13%</div>
<div class="t ct" style="left:131.00px;width:51.80px;top:530.80px;height:20px;line-height:20px;font-size:16px;">70%</div>
<div class="t ct" style="left:1191.10px;width:52.50px;top:529.80px;height:20px;line-height:20px;font-size:16px;">30%</div>
<div class="t cn" style="left:0.00px;width:127.96px;top:529.80px;height:20px;line-height:20px;font-size:15.5px;letter-spacing:0.66px;">Turkey</div>
<div class="t bl" style="left:359.30px;width:60.00px;top:531.30px;height:20px;line-height:20px;font-size:17.5px;color:#fff;letter-spacing:0.45px;">42%</div>
<div class="t bl" style="left:714.20px;width:60.00px;top:531.30px;height:20px;line-height:20px;font-size:17.5px;color:#17260e;letter-spacing:0.45px;">28%</div>
<div class="t bl" style="left:927.05px;width:60.00px;top:531.30px;height:20px;line-height:20px;font-size:17.5px;color:#fff;letter-spacing:0.45px;">14%</div>
<div class="t bl" style="left:1077.52px;width:60.00px;top:531.30px;height:20px;line-height:20px;font-size:17.5px;color:#fff;letter-spacing:0.45px;">16%</div>
<div class="t ct" style="left:131.00px;width:51.80px;top:555.80px;height:20px;line-height:20px;font-size:16px;">70%</div>
<div class="t ct" style="left:1191.10px;width:52.50px;top:555.80px;height:20px;line-height:20px;font-size:16px;">30%</div>
<div class="t cn" style="left:0.00px;width:128.17px;top:554.80px;height:20px;line-height:20px;font-size:15.5px;letter-spacing:0.87px;">Belgium</div>
<div class="t bl" style="left:319.65px;width:60.00px;top:556.30px;height:20px;line-height:20px;font-size:17.5px;color:#fff;letter-spacing:0.45px;">34%</div>
<div class="t bl" style="left:672.50px;width:60.00px;top:556.30px;height:20px;line-height:20px;font-size:17.5px;color:#17260e;letter-spacing:0.45px;">36%</div>
<div class="t bl" style="left:938.50px;width:60.00px;top:556.30px;height:20px;line-height:20px;font-size:17.5px;color:#fff;letter-spacing:0.45px;">17%</div>
<div class="t bl" style="left:1091.02px;width:60.00px;top:556.30px;height:20px;line-height:20px;font-size:17.5px;color:#fff;letter-spacing:0.45px;">13%</div>
<div class="t ct" style="left:131.00px;width:51.80px;top:581.80px;height:20px;line-height:20px;font-size:16px;">70%</div>
<div class="t ct" style="left:1191.10px;width:52.50px;top:580.80px;height:20px;line-height:20px;font-size:16px;">30%</div>
<div class="t cn" style="left:0.00px;width:127.85px;top:579.80px;height:20px;line-height:20px;font-size:15.5px;letter-spacing:0.55px;">Chile</div>
<div class="t bl" style="left:350.20px;width:60.00px;top:581.30px;height:20px;line-height:20px;font-size:17.5px;color:#fff;letter-spacing:0.45px;">40%</div>
<div class="t bl" style="left:703.05px;width:60.00px;top:581.30px;height:20px;line-height:20px;font-size:17.5px;color:#17260e;letter-spacing:0.45px;">30%</div>
<div class="t bl" style="left:924.00px;width:60.00px;top:581.30px;height:20px;line-height:20px;font-size:17.5px;color:#fff;letter-spacing:0.45px;">14%</div>
<div class="t bl" style="left:1076.52px;width:60.00px;top:581.30px;height:20px;line-height:20px;font-size:17.5px;color:#fff;letter-spacing:0.45px;">16%</div>
<div class="t ct" style="left:131.00px;width:51.80px;top:606.80px;height:20px;line-height:20px;font-size:16px;">67%</div>
<div class="t ct" style="left:1191.10px;width:52.50px;top:605.80px;height:20px;line-height:20px;font-size:16px;">33%</div>
<div class="t cn" style="left:0.00px;width:127.94px;top:604.80px;height:20px;line-height:20px;font-size:15.5px;letter-spacing:0.64px;">Sweden</div>
<div class="t bl" style="left:320.80px;width:60.00px;top:606.30px;height:20px;line-height:20px;font-size:17.5px;color:#fff;letter-spacing:0.45px;">34%</div>
<div class="t bl" style="left:660.40px;width:60.00px;top:606.30px;height:20px;line-height:20px;font-size:17.5px;color:#17260e;letter-spacing:0.45px;">33%</div>
<div class="t bl" style="left:925.75px;width:60.00px;top:606.30px;height:20px;line-height:20px;font-size:17.5px;color:#fff;letter-spacing:0.45px;">20%</div>
<div class="t bl" style="left:1091.52px;width:60.00px;top:606.30px;height:20px;line-height:20px;font-size:17.5px;color:#fff;letter-spacing:0.45px;">13%</div>
<div class="t ct" style="left:131.00px;width:51.80px;top:631.80px;height:20px;line-height:20px;font-size:16px;">67%</div>
<div class="t ct" style="left:1191.10px;width:52.50px;top:630.80px;height:20px;line-height:20px;font-size:16px;">33%</div>
<div class="t cn" style="left:0.00px;width:127.92px;top:630.80px;height:20px;line-height:20px;font-size:15.5px;letter-spacing:0.62px;">United States</div>
<div class="t bl" style="left:323.95px;width:60.00px;top:632.30px;height:20px;line-height:20px;font-size:17.5px;color:#fff;letter-spacing:0.45px;">35%</div>
<div class="t bl" style="left:663.05px;width:60.00px;top:632.30px;height:20px;line-height:20px;font-size:17.5px;color:#17260e;letter-spacing:0.45px;">32%</div>
<div class="t bl" style="left:912.90px;width:60.00px;top:632.30px;height:20px;line-height:20px;font-size:17.5px;color:#fff;letter-spacing:0.45px;">17%</div>
<div class="t bl" style="left:1079.17px;width:60.00px;top:632.30px;height:20px;line-height:20px;font-size:17.5px;color:#fff;letter-spacing:0.45px;">16%</div>
<div class="t ct" style="left:131.00px;width:51.80px;top:656.80px;height:20px;line-height:20px;font-size:16px;">67%</div>
<div class="t ct" style="left:1191.10px;width:52.50px;top:655.80px;height:20px;line-height:20px;font-size:16px;">33%</div>
<div class="t cn" style="left:0.00px;width:128.15px;top:655.80px;height:20px;line-height:20px;font-size:15.5px;letter-spacing:0.85px;">Germany</div>
<div class="t bl" style="left:327.45px;width:60.00px;top:657.30px;height:20px;line-height:20px;font-size:17.5px;color:#fff;letter-spacing:0.45px;">36%</div>
<div class="t bl" style="left:664.35px;width:60.00px;top:657.30px;height:20px;line-height:20px;font-size:17.5px;color:#17260e;letter-spacing:0.45px;">31%</div>
<div class="t bl" style="left:922.55px;width:60.00px;top:657.30px;height:20px;line-height:20px;font-size:17.5px;color:#fff;letter-spacing:0.45px;">20%</div>
<div class="t bl" style="left:1091.02px;width:60.00px;top:657.30px;height:20px;line-height:20px;font-size:17.5px;color:#fff;letter-spacing:0.45px;">13%</div>
<div class="t ct" style="left:131.00px;width:51.80px;top:681.80px;height:20px;line-height:20px;font-size:16px;">67%</div>
<div class="t ct" style="left:1191.10px;width:52.50px;top:680.80px;height:20px;line-height:20px;font-size:16px;">33%</div>
<div class="t cn" style="left:0.00px;width:128.20px;top:680.80px;height:20px;line-height:20px;font-size:15.5px;letter-spacing:0.9px;">Italy</div>
<div class="t bl" style="left:336.20px;width:60.00px;top:682.30px;height:20px;line-height:20px;font-size:17.5px;color:#fff;letter-spacing:0.45px;">37%</div>
<div class="t bl" style="left:672.20px;width:60.00px;top:682.30px;height:20px;line-height:20px;font-size:17.5px;color:#17260e;letter-spacing:0.45px;">29%</div>
<div class="t bl" style="left:905.80px;width:60.00px;top:682.30px;height:20px;line-height:20px;font-size:17.5px;color:#fff;letter-spacing:0.45px;">17%</div>
<div class="t bl" style="left:1075.17px;width:60.00px;top:682.30px;height:20px;line-height:20px;font-size:17.5px;color:#fff;letter-spacing:0.45px;">17%</div>
<div class="t ct" style="left:131.00px;width:51.80px;top:706.80px;height:20px;line-height:20px;font-size:16px;">64%</div>
<div class="t ct" style="left:1191.10px;width:52.50px;top:705.80px;height:20px;line-height:20px;font-size:16px;">36%</div>
<div class="t cn" style="left:0.00px;width:128.01px;top:705.80px;height:20px;line-height:20px;font-size:15.5px;letter-spacing:0.71px;">South Africa</div>
<div class="t bl" style="left:295.30px;width:60.00px;top:707.30px;height:20px;line-height:20px;font-size:17.5px;color:#fff;letter-spacing:0.45px;">29%</div>
<div class="t bl" style="left:617.95px;width:60.00px;top:707.30px;height:20px;line-height:20px;font-size:17.5px;color:#17260e;letter-spacing:0.45px;">35%</div>
<div class="t bl" style="left:887.80px;width:60.00px;top:707.30px;height:20px;line-height:20px;font-size:17.5px;color:#fff;letter-spacing:0.45px;">19%</div>
<div class="t bl" style="left:1070.52px;width:60.00px;top:707.30px;height:20px;line-height:20px;font-size:17.5px;color:#fff;letter-spacing:0.45px;">18%</div>
<div class="t ct" style="left:131.00px;width:51.80px;top:731.80px;height:20px;line-height:20px;font-size:16px;">59%</div>
<div class="t ct" style="left:1191.10px;width:52.50px;top:730.80px;height:20px;line-height:20px;font-size:16px;">41%</div>
<div class="t cn" style="left:0.00px;width:127.74px;top:730.80px;height:20px;line-height:20px;font-size:15.5px;letter-spacing:0.44px;">France</div>
<div class="t bl" style="left:259.15px;width:60.00px;top:732.30px;height:20px;line-height:20px;font-size:17.5px;color:#fff;letter-spacing:0.45px;">22%</div>
<div class="t bl" style="left:559.00px;width:60.00px;top:732.30px;height:20px;line-height:20px;font-size:17.5px;color:#17260e;letter-spacing:0.45px;">37%</div>
<div class="t bl" style="left:853.00px;width:60.00px;top:732.30px;height:20px;line-height:20px;font-size:17.5px;color:#fff;letter-spacing:0.45px;">21%</div>
<div class="t bl" style="left:1058.52px;width:60.00px;top:732.30px;height:20px;line-height:20px;font-size:17.5px;color:#fff;letter-spacing:0.45px;">20%</div>
<div class="t ct" style="left:131.00px;width:51.80px;top:756.80px;height:20px;line-height:20px;font-size:16px;">56%</div>
<div class="t ct" style="left:1191.10px;width:52.50px;top:755.80px;height:20px;line-height:20px;font-size:16px;">44%</div>
<div class="t cn" style="left:0.00px;width:127.95px;top:755.80px;height:20px;line-height:20px;font-size:15.5px;letter-spacing:0.65px;">Hungary</div>
<div class="t bl" style="left:243.80px;width:60.00px;top:757.30px;height:20px;line-height:20px;font-size:17.5px;color:#fff;letter-spacing:0.45px;">19%</div>
<div class="t bl" style="left:524.65px;width:60.00px;top:757.30px;height:20px;line-height:20px;font-size:17.5px;color:#17260e;letter-spacing:0.45px;">37%</div>
<div class="t bl" style="left:793.00px;width:60.00px;top:757.30px;height:20px;line-height:20px;font-size:17.5px;color:#fff;letter-spacing:0.45px;">17%</div>
<div class="t bl" style="left:1017.52px;width:60.00px;top:757.30px;height:20px;line-height:20px;font-size:17.5px;color:#fff;letter-spacing:0.45px;">28%</div>
<div class="t ct" style="left:131.00px;width:51.80px;top:781.80px;height:20px;line-height:20px;font-size:16px;">56%</div>
<div class="t ct" style="left:1191.10px;width:52.50px;top:781.80px;height:20px;line-height:20px;font-size:16px;">45%</div>
<div class="t cn" style="left:0.00px;width:127.90px;top:780.80px;height:20px;line-height:20px;font-size:15.5px;letter-spacing:0.6px;">Poland</div>
<div class="t bl" style="left:240.80px;width:60.00px;top:782.30px;height:20px;line-height:20px;font-size:17.5px;color:#fff;letter-spacing:0.45px;">18%</div>
<div class="t bl" style="left:520.80px;width:60.00px;top:782.30px;height:20px;line-height:20px;font-size:17.5px;color:#17260e;letter-spacing:0.45px;">37%</div>
<div class="t bl" style="left:844.65px;width:60.00px;top:782.30px;height:20px;line-height:20px;font-size:17.5px;color:#fff;letter-spacing:0.45px;">27%</div>
<div class="t bl" style="left:1070.02px;width:60.00px;top:782.30px;height:20px;line-height:20px;font-size:17.5px;color:#fff;letter-spacing:0.45px;">18%</div>
<div class="t ct" style="left:131.00px;width:51.80px;top:806.80px;height:20px;line-height:20px;font-size:16px;">54%</div>
<div class="t ct" style="left:1191.10px;width:52.50px;top:806.80px;height:20px;line-height:20px;font-size:16px;">47%</div>
<div class="t cn" style="left:0.00px;width:127.26px;top:806.80px;height:20px;line-height:20px;font-size:15.5px;letter-spacing:-0.04px;">Russia</div>
<div class="t bl" style="left:245.65px;width:60.00px;top:808.30px;height:20px;line-height:20px;font-size:17.5px;color:#fff;letter-spacing:0.45px;">19%</div>
<div class="t bl" style="left:516.00px;width:60.00px;top:808.30px;height:20px;line-height:20px;font-size:17.5px;color:#17260e;letter-spacing:0.45px;">34%</div>
<div class="t bl" style="left:801.50px;width:60.00px;top:808.30px;height:20px;line-height:20px;font-size:17.5px;color:#fff;letter-spacing:0.45px;">22%</div>
<div class="t bl" style="left:1036.52px;width:60.00px;top:808.30px;height:20px;line-height:20px;font-size:17.5px;color:#fff;letter-spacing:0.45px;">24%</div>
<div class="t lg" style="left:270.80px;width:121.40px;top:852.30px;height:24px;line-height:24px;font-size:18px;letter-spacing:0.15px;">Strongly agree</div>
<div class="t lg" style="left:437.60px;width:141.50px;top:852.30px;height:24px;line-height:24px;font-size:18px;letter-spacing:0.15px;">Somewhat agree</div>
<div class="t lg" style="left:624.10px;width:164.10px;top:852.30px;height:24px;line-height:24px;font-size:18px;letter-spacing:0.15px;">Somewhat disagree</div>
<div class="t lg" style="left:833.60px;width:144.20px;top:852.30px;height:24px;line-height:24px;font-size:18px;letter-spacing:0.15px;">Strongly disagree</div>
</body></html>
